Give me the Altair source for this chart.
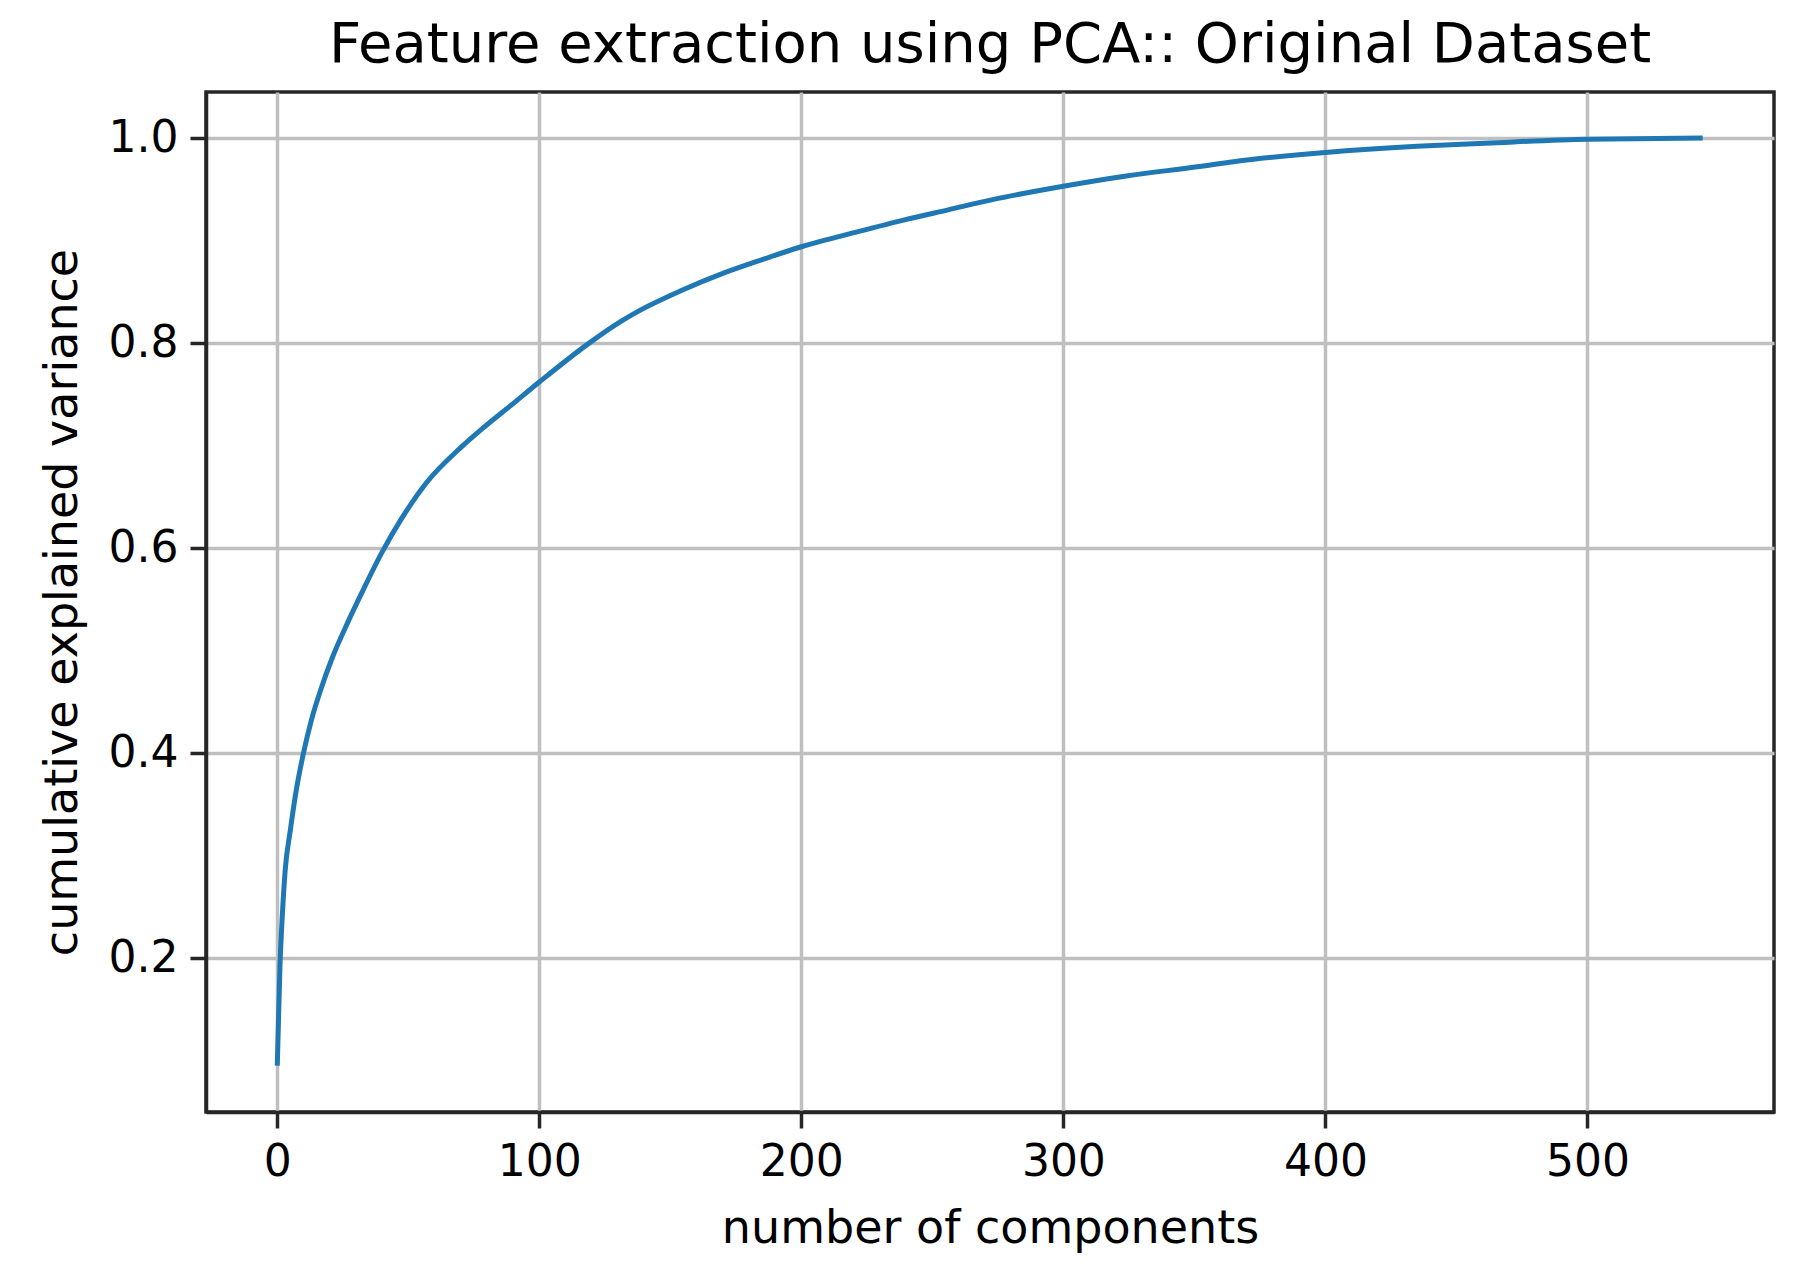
import altair as alt
import pandas as pd

# number of components (index) and cumulative explained variance
components = [0, 1, 2, 3, 5, 7, 10, 13, 17, 21, 27, 32, 40, 47, 57, 70, 78, 90, 100,
              119, 131, 137, 154, 171, 188, 200, 222, 239, 256, 273, 300, 324, 351, 365,
              400, 435, 461, 500, 544]
cum_variance = [0.095, 0.19, 0.245, 0.285, 0.325, 0.36, 0.40, 0.432, 0.465, 0.493, 0.528,
                0.555, 0.596, 0.627, 0.664, 0.698, 0.716, 0.741, 0.762, 0.80, 0.821,
                0.830, 0.851, 0.869, 0.884, 0.894, 0.909, 0.920, 0.930, 0.940, 0.953,
                0.963, 0.972, 0.977, 0.986, 0.992, 0.995, 0.999, 1.0]

x_ticks = [0, 100, 200, 300, 400, 500]
y_ticks = [0.2, 0.4, 0.6, 0.8, 1.0]

df = pd.DataFrame({"n": components, "v": cum_variance})

FONT = "DejaVu Sans"

chart = alt.Chart(df).mark_line(
    color="#1f77b4", strokeWidth=5, interpolate="monotone"
).encode(
    x=alt.X("n:Q",
            scale=alt.Scale(domain=[-27.2, 571.2], nice=False, zero=False),
            axis=alt.Axis(values=x_ticks, title="number of components",
                          format="d", titlePadding=22)),
    y=alt.Y("v:Q",
            scale=alt.Scale(domain=[0.0498, 1.045], nice=False, zero=False),
            axis=alt.Axis(values=y_ticks, title="cumulative explained variance",
                          format=".1f", titlePadding=22)),
).properties(
    width=1568,
    height=1020,
    background="white",
    autosize=alt.AutoSizeParams(type="none"),
    padding={"left": 198, "top": 84, "right": 15, "bottom": 150},
    title=alt.TitleParams(
        "Feature extraction using PCA:: Original Dataset",
        font=FONT, fontSize=56, fontWeight="normal", color="#000000",
        anchor="middle", baseline="alphabetic", offset=27, dy=53,
    ),
).configure_view(
    stroke="#262626", strokeWidth=3.5, fill="white"
).configure_axis(
    labelFont=FONT, titleFont=FONT,
    labelFontSize=44, titleFontSize=46,
    labelColor="#000000", titleColor="#000000",
    titleFontWeight="normal",
    grid=True, gridColor="#bfbfbf", gridWidth=3.5, gridOpacity=1,
    domain=True, domainColor="#262626", domainWidth=3.5,
    ticks=True, tickColor="#262626", tickWidth=3.5, tickSize=16,
    labelPadding=12,
)

chart.save("out.html", embed_options={"renderer": "svg", "actions": False})
